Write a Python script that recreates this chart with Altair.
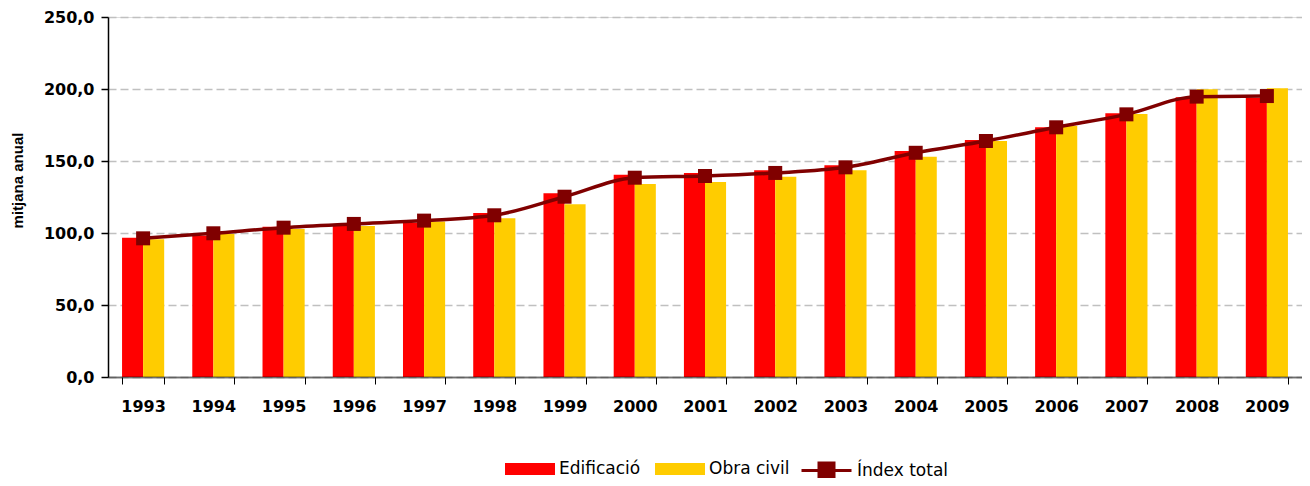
import altair as alt
import pandas as pd

years = [str(y) for y in range(1993, 2010)]
edificacio = [96.7, 98.1, 104.4, 105.6, 107.2, 113.9, 127.6, 140.5, 141.7, 143.5,
              147.0, 156.9, 164.6, 173.4, 183.1, 194.2, 193.8]
obra_civil = [95.6, 99.3, 102.8, 104.9, 107.9, 110.2, 119.9, 134.0, 135.4, 139.1,
              143.5, 153.0, 163.9, 174.3, 182.6, 199.8, 200.5]
index_total = [96.3, 99.8, 103.7, 106.3, 108.6, 112.3, 125.2, 138.4, 139.6, 141.7,
               145.6, 155.7, 163.9, 173.4, 182.4, 194.7, 195.1]
bar_series = ["Edificació", "Obra civil"]
bar_colors = ["#ff0000", "#ffcc00"]
line_series = ["Índex total"]
line_color = "#800000"
y_ticks = [0, 50, 100, 150, 200, 250]

bars_df = pd.DataFrame({
    "any": years * 2,
    "serie": [bar_series[0]] * len(years) + [bar_series[1]] * len(years),
    "valor": edificacio + obra_civil,
})
line_df = pd.DataFrame({"any": years, "serie": line_series * len(years), "valor": index_total})

x_axis = alt.Axis(
    labelAngle=0, labelFont="DejaVu Sans", labelFontWeight="bold", labelFontSize=16,
    labelColor="black", labelPadding=14, domainColor="black", domainOpacity=0.5,
    domainWidth=2, tickColor="black", tickSize=7, tickWidth=1, tickBand="extent",
    zindex=1, grid=False, title=None,
)
y_axis = alt.Axis(
    values=y_ticks, labelExpr="replace(format(datum.value, '.1f'), '.', ',')",
    labelFont="DejaVu Sans", labelFontWeight="bold", labelFontSize=16, labelColor="black",
    labelPadding=7, domainColor="black", domainWidth=1.5, tickColor="black", tickSize=7,
    tickWidth=1.5, grid=True, gridColor="#c0c0c0", gridDash=[8, 4], gridWidth=1.5,
    title="mitjana anual", titleFont="Liberation Sans", titleFontSize=15,
    titleFontWeight="bold", titleColor="black", titleX=-83, titleY=163,
)

x_enc = alt.X("any:N", sort=years, scale=alt.Scale(paddingInner=0.4, paddingOuter=0.2), axis=x_axis)
y_enc = alt.Y("valor:Q", scale=alt.Scale(domain=[0, 250], nice=False), axis=y_axis)

bars = alt.Chart(bars_df).mark_bar().encode(
    x=x_enc,
    xOffset=alt.XOffset("serie:N", sort=bar_series,
                        scale=alt.Scale(domain=bar_series, paddingInner=0, paddingOuter=0)),
    y=y_enc,
    fill=alt.Fill("serie:N", scale=alt.Scale(domain=bar_series, range=bar_colors),
                  legend=alt.Legend(
                      title=None, orient="none", legendX=397, legendY=427,
                      direction="horizontal", symbolType="M-1,-0.24H1V0.24H-1Z",
                      symbolSize=2500, symbolStrokeWidth=0, labelFont="DejaVu Sans",
                      labelFontSize=17, labelColor="black", labelOffset=4,
                      columnPadding=14, padding=0, symbolOffset=0)),
)

line = alt.Chart(line_df).mark_line(strokeWidth=3.5, interpolate="monotone").encode(
    x=alt.X("any:N", sort=years),
    y="valor:Q",
    stroke=alt.Stroke("serie:N", scale=alt.Scale(domain=line_series, range=[line_color]),
                      legend=alt.Legend(
                          title=None, orient="none", legendX=692, legendY=427,
                          direction="horizontal",
                          symbolType="M-1,0H1M-0.3,-0.3H0.3V0.3H-0.3Z",
                          symbolSize=2500, symbolStrokeWidth=3, symbolFillColor=line_color,
                          labelFont="DejaVu Sans", labelFontSize=17, labelColor="black",
                          labelOffset=4, padding=0, symbolOffset=0)),
)

points = alt.Chart(line_df).mark_point(shape="square", size=196, filled=True,
                                       color=line_color, opacity=1).encode(
    x=alt.X("any:N", sort=years),
    y="valor:Q",
)

chart = alt.layer(bars, line, points).properties(
    width=1194, height=360,
    autosize=alt.AutoSizeParams(type="none"),
    padding={"left": 100, "top": 9, "right": 0, "bottom": 101},
).configure_view(stroke=None).configure(background="white")

chart.save("out.html", embed_options={"renderer": "svg", "actions": False})
